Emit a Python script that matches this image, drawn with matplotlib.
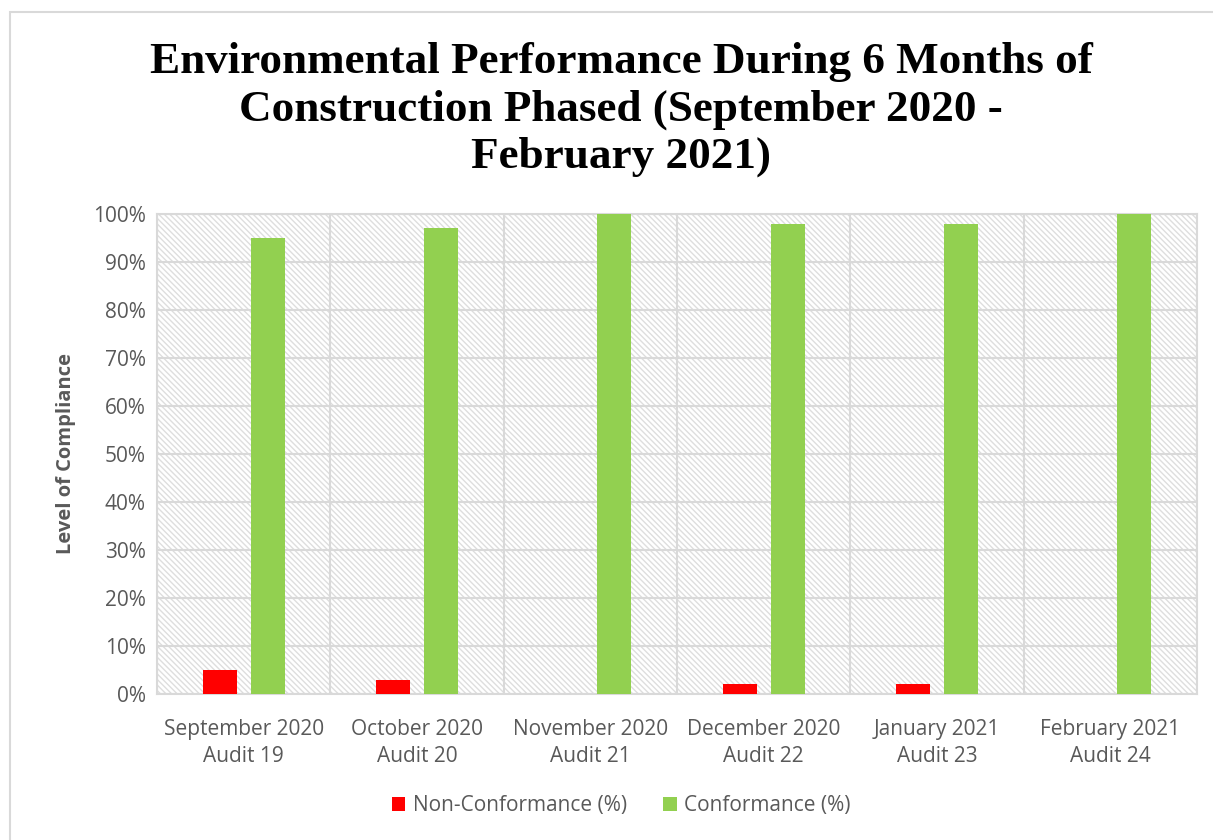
import matplotlib.pyplot as plt
import numpy as np
from matplotlib.patches import Rectangle

months = ['September 2020\nAudit 19', 'October 2020\nAudit 20', 'November 2020\nAudit 21',
          'December 2020\nAudit 22', 'January 2021\nAudit 23', 'February 2021\nAudit 24']
non_conformance = [5, 3, 0, 2, 2, 0]
conformance = [95, 97, 100, 98, 98, 100]

plt.rcParams['font.family'] = ['Open Sans', 'DejaVu Sans']
plt.rcParams['hatch.linewidth'] = 1.0
plt.rcParams['hatch.color'] = '#d9d9d9'

fig = plt.figure(figsize=(12.13, 8.4), dpi=100)
ax = fig.add_axes([157/1213, 1 - 694/840, (1197-157)/1213, (694-214)/840])

# outer chart frame
fig.patches.append(Rectangle((10/1213, -0.01), 1.01, 1 - 12/840 + 0.01, transform=fig.transFigure,
                             fill=False, edgecolor='#d9d9d9', linewidth=1.5))

# hatched plot area
ax.add_patch(Rectangle((0, 0), 1, 1, transform=ax.transAxes, facecolor='white',
                       edgecolor='#dedede', hatch='\\\\\\\\\\\\', linewidth=0, zorder=0))

x = np.arange(len(months))
w = 0.196
ax.bar(x - 0.138, non_conformance, w, color='#ff0000', label='Non-Conformance (%)', zorder=3)
ax.bar(x + 0.138, conformance, w, color='#92d050', label='Conformance (%)', zorder=3)

ax.set_xlim(-0.5, len(months) - 0.5)
ax.set_ylim(0, 100)
ax.set_yticks(range(0, 101, 10))
ax.set_yticklabels([f'{v}%' for v in range(0, 101, 10)])
ax.set_xticks(x)
ax.set_xticklabels(months, linespacing=1.35)
ax.set_xticks(np.arange(-0.5, len(months), 1), minor=True)
ax.grid(True, axis='y', color='#d9d9d9', linewidth=1.5, zorder=1)
ax.grid(True, axis='x', which='minor', color='#d9d9d9', linewidth=1.5, zorder=1)
ax.grid(False, axis='x', which='major')
ax.tick_params(axis='both', which='both', length=0, labelsize=15, colors='#595959')
ax.tick_params(axis='x', pad=18)
ax.tick_params(axis='y', pad=8)
for s in ax.spines.values():
    s.set_color('#d9d9d9')
    s.set_linewidth(1.5)

ax.set_ylabel('Level of Compliance', fontsize=14.5, fontweight='bold', color='#595959', labelpad=12)

fig.text(0.512, 0.95, 'Environmental Performance During 6 Months of\nConstruction Phased (September 2020 -\nFebruary 2021)',
         ha='center', va='top', fontsize=32.5, fontweight='bold', family='Liberation Serif',
         linespacing=1.23)

fig.legend(loc='center', bbox_to_anchor=(0.512, 1 - 806/840), ncol=2, frameon=False,
           fontsize=15, labelcolor='#595959', handlelength=0.65, handleheight=0.65,
           handletextpad=0.35, columnspacing=1.75)

plt.savefig('out.png', dpi=100)
